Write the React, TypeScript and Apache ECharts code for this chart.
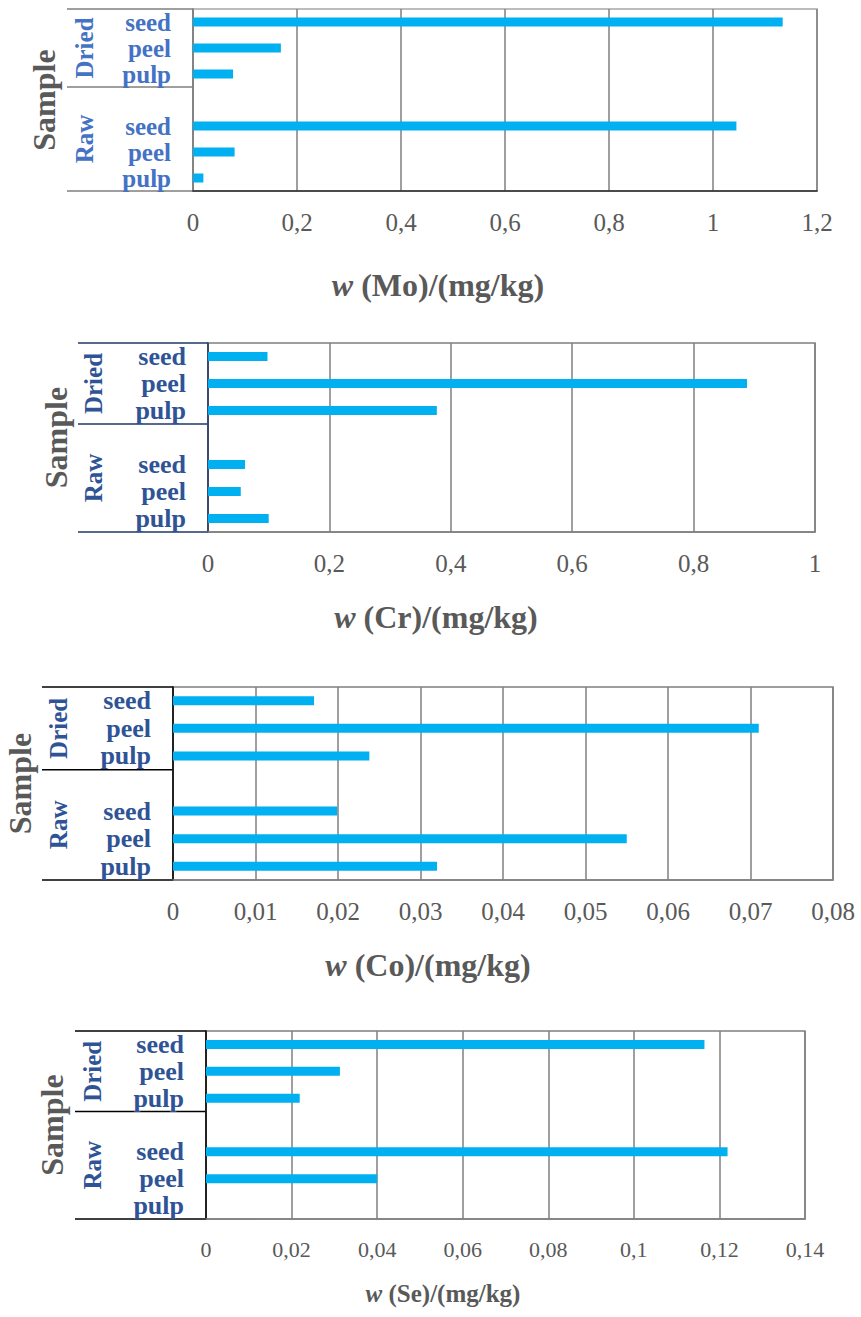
import React, { useEffect, useRef } from "react";
import * as echarts from "echarts";

// ---- data ----
const groups = ["Dried", "Raw"];
const parts = ["seed", "peel", "pulp"];
const elements = ["Mo", "Cr", "Co", "Se"];

const moDried = [1.134, 0.169, 0.077];
const moRaw = [1.045, 0.08, 0.02];
const crDried = [0.098, 0.888, 0.377];
const crRaw = [0.061, 0.054, 0.1];
const coDried = [0.0171, 0.071, 0.0238];
const coRaw = [0.0199, 0.055, 0.032];
const seDried = [0.1165, 0.0313, 0.0219];
const seRaw = [0.1219, 0.04, 0];

const axisMax = [1.2, 1, 0.08, 0.14];
const axisStep = [0.2, 0.2, 0.01, 0.02];

const driedValues = [moDried, crDried, coDried, seDried];
const rawValues = [moRaw, crRaw, coRaw, seRaw];

// ---- layout / style (not data) ----
const FONT = "'Liberation Serif', 'Times New Roman', serif";
const layouts = [
  { left: 193, right: 817, top: 9, bottom: 191, boxLeft: 67, sampleX: 44, groupX: 84, titleX: 438, titleY: 285, titleSize: 32, tickSize: 25, catSize: 25, catColor: "#4472C4", boxColor: "#7F7F7F", yAxisColor: "#7F7F7F", xAxisColor: "#262626", borderColor: "#A6A6A6" },
  { left: 208, right: 815, top: 343, bottom: 532, boxLeft: 78, sampleX: 56, groupX: 93, titleX: 436, titleY: 617, titleSize: 32, tickSize: 25, catSize: 26, catColor: "#2F5496", boxColor: "#1F3864", yAxisColor: "#1F3864", xAxisColor: "#7F7F7F", borderColor: "#7F7F7F" },
  { left: 173, right: 833, top: 687, bottom: 880, boxLeft: 42, sampleX: 20, groupX: 58, titleX: 428, titleY: 965, titleSize: 32, tickSize: 25, catSize: 26, catColor: "#2F5496", boxColor: "#000000", yAxisColor: "#000000", xAxisColor: "#7F7F7F", borderColor: "#7F7F7F" },
  { left: 206, right: 805, top: 1031, bottom: 1219, boxLeft: 75, sampleX: 52, groupX: 92, titleX: 443, titleY: 1293, titleSize: 25, tickSize: 22, catSize: 26, catColor: "#2F5496", boxColor: "#000000", yAxisColor: "#000000", xAxisColor: "#7F7F7F", borderColor: "#7F7F7F" },
];

// categories bottom-to-top: Raw pulp, peel, seed, gap, Dried pulp, peel, seed
function buildCategories(): string[] {
  const rev = [...parts].reverse();
  return [
    ...rev.map((p) => groups[1] + "|" + p),
    "gap|",
    ...rev.map((p) => groups[0] + "|" + p),
  ];
}
function buildValues(dried: number[], raw: number[]): (number | null)[] {
  return [...[...raw].reverse(), null, ...[...dried].reverse()];
}

const fmt = (v: number) => String(+v.toFixed(4)).replace(".", ",");

export default function App() {
  const ref = useRef<HTMLDivElement>(null);
  useEffect(() => {
    if (!ref.current) return;
    const chart = echarts.init(ref.current, undefined, { renderer: "svg" });
    const cats = buildCategories();
    const grid: any[] = [];
    const xAxis: any[] = [];
    const yAxis: any[] = [];
    const series: any[] = [];
    const graphic: any[] = [];

    layouts.forEach((L, i) => {
      grid.push({
        left: L.left,
        top: L.top,
        width: L.right - L.left,
        height: L.bottom - L.top,
        show: true,
        borderColor: L.borderColor,
        borderWidth: 1.5,
        containLabel: false,
      });
      xAxis.push({
        gridIndex: i,
        type: "value",
        min: 0,
        max: axisMax[i],
        interval: axisStep[i],
        axisLine: { show: true, lineStyle: { color: L.xAxisColor, width: 1.5 } },
        axisTick: { show: false },
        splitLine: { show: true, lineStyle: { color: "#7F7F7F", width: 1.5 } },
        axisLabel: {
          fontFamily: FONT,
          fontSize: L.tickSize,
          color: "#595959",
          margin: 19,
          formatter: (v: number) => fmt(v),
        },
      });
      yAxis.push({
        gridIndex: i,
        type: "category",
        data: cats,
        axisLine: { show: true, lineStyle: { color: L.yAxisColor, width: 1.5 } },
        axisTick: { show: false },
        splitLine: { show: false },
        axisLabel: {
          interval: 0,
          fontFamily: FONT,
          fontWeight: "bold",
          fontSize: L.catSize,
          color: L.catColor,
          margin: 22,
          formatter: (v: string) => v.split("|")[1],
        },
      });
      series.push({
        type: "bar",
        xAxisIndex: i,
        yAxisIndex: i,
        data: buildValues(driedValues[i], rawValues[i]),
        barWidth: 9,
        itemStyle: { color: "#00B0F0" },
      });

      const slot = (L.bottom - L.top) / 7;
      const ys = [L.top, L.top + 3 * slot, L.bottom];
      ys.forEach((y) => {
        graphic.push({
          type: "line",
          shape: { x1: L.boxLeft, y1: y, x2: L.left, y2: y },
          style: { stroke: L.boxColor, lineWidth: 1.5 },
          silent: true,
        });
      });
      graphic.push({
        type: "text",
        x: L.sampleX,
        y: (L.top + L.bottom) / 2,
        rotation: Math.PI / 2,
        style: {
          text: "Sample",
          fill: "#595959",
          fontFamily: FONT,
          fontWeight: "bold",
          fontSize: 32,
          align: "center",
          verticalAlign: "middle",
        },
      });
      [L.top + 1.5 * slot, L.top + 5 * slot].forEach((y, gi) => {
        graphic.push({
          type: "text",
          x: L.groupX,
          y,
          rotation: Math.PI / 2,
          style: {
            text: groups[gi],
            fill: L.catColor,
            fontFamily: FONT,
            fontWeight: "bold",
            fontSize: 25,
            align: "center",
            verticalAlign: "middle",
          },
        });
      });
      graphic.push({
        type: "text",
        x: L.titleX,
        y: L.titleY,
        style: {
          text: "{i|w} {b|(" + elements[i] + ")/(mg/kg)}",
          align: "center",
          verticalAlign: "middle",
          fill: "#595959",
          rich: {
            i: { fontFamily: FONT, fontStyle: "italic", fontWeight: "bold", fontSize: L.titleSize, fill: "#595959", color: "#595959" },
            b: { fontFamily: FONT, fontWeight: "bold", fontSize: L.titleSize, fill: "#595959", color: "#595959" },
          },
          fontFamily: FONT,
          fontWeight: "bold",
          fontSize: L.titleSize,
        },
      });
    });

    chart.setOption({
      animation: false,
      backgroundColor: "#ffffff",
      grid,
      xAxis,
      yAxis,
      series,
      graphic,
    });
    return () => chart.dispose();
  }, []);
  return (
    <div
      ref={ref}
      style={{ position: "absolute", left: 0, top: 0, width: 861, height: 1317 }}
    />
  );
}
